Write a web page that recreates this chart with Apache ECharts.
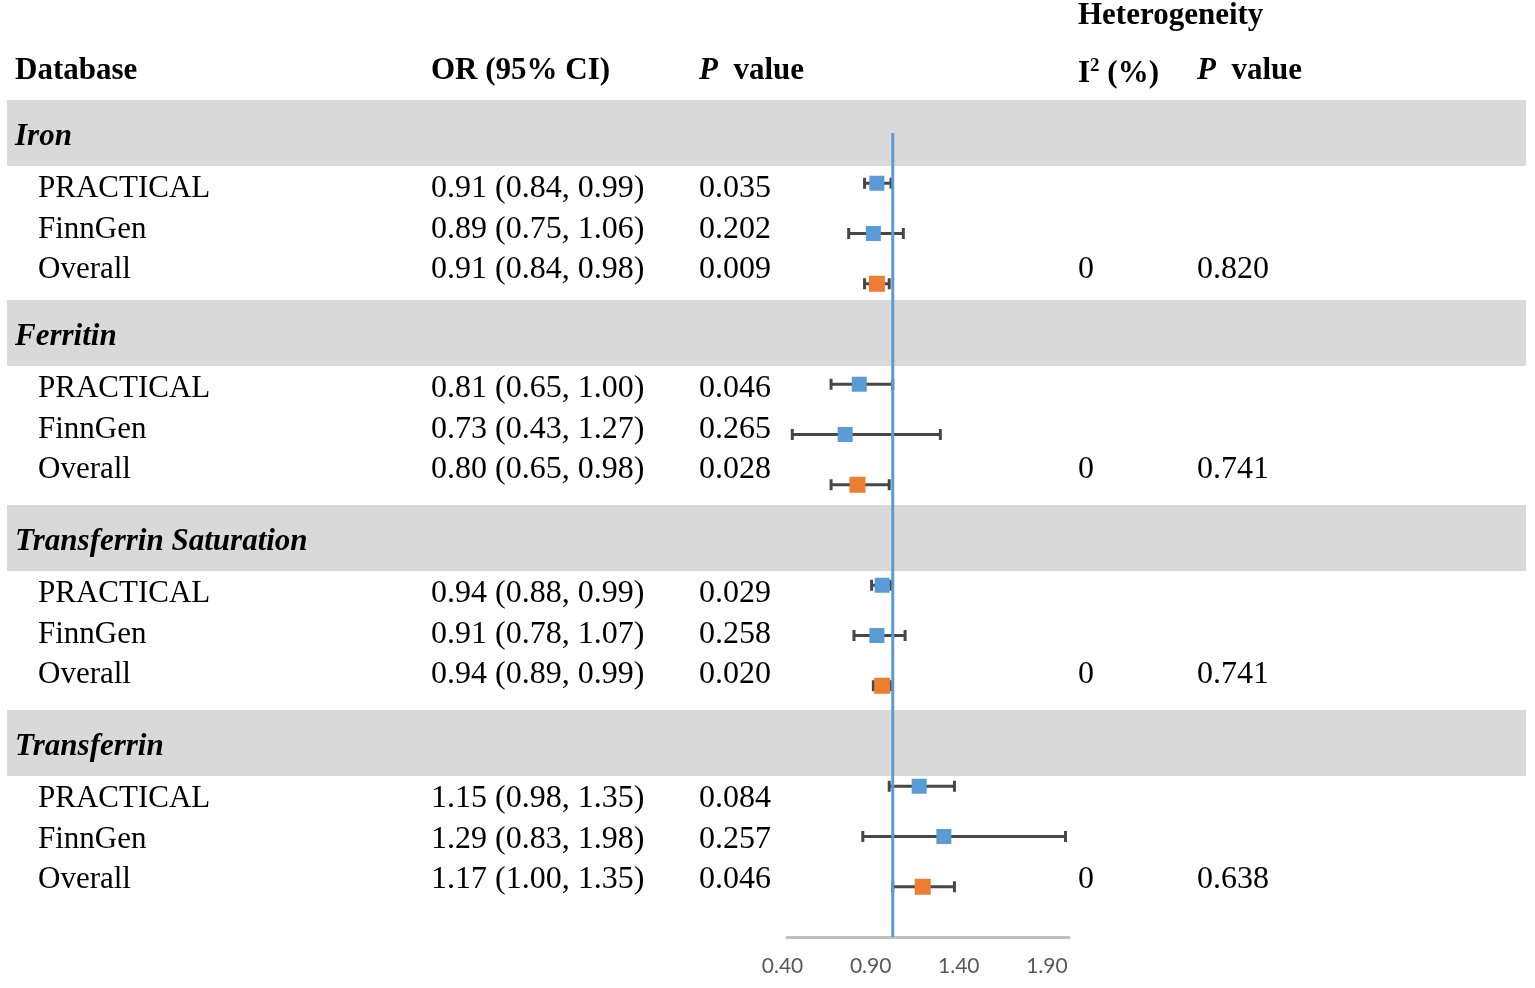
<!DOCTYPE html>
<html><head><meta charset="utf-8">
<script src="https://cdn.jsdelivr.net/npm/echarts@6/dist/echarts.min.js"></script>
<style>html,body{margin:0;padding:0;background:#fff;}#c{width:1535px;height:988px;}</style>
</head><body><div id="c"></div>
<script>
// ---- data ----
const groups = ['Iron', 'Ferritin', 'Transferrin Saturation', 'Transferrin'];
const databases = ['PRACTICAL', 'FinnGen', 'Overall'];
const orValues = [[0.91, 0.89, 0.91], [0.81, 0.73, 0.80], [0.94, 0.91, 0.94], [1.15, 1.29, 1.17]];
const ciLow    = [[0.84, 0.75, 0.84], [0.65, 0.43, 0.65], [0.88, 0.78, 0.89], [0.98, 0.83, 1.00]];
const ciHigh   = [[0.99, 1.06, 0.98], [1.00, 1.27, 0.98], [0.99, 1.07, 0.99], [1.35, 1.98, 1.35]];
const pValues  = [['0.035', '0.202', '0.009'], ['0.046', '0.265', '0.028'], ['0.029', '0.258', '0.020'], ['0.084', '0.257', '0.046']];
const i2Values = ['0', '0', '0', '0'];
const hetPValues = ['0.820', '0.741', '0.741', '0.638'];
const xTickLabels = ['0.40', '0.90', '1.40', '1.90'];
const refValue = 1.0;

// ---- build ----
const fmt = v => v.toFixed(2);
const blue = [], orange = [], bars = [];
groups.forEach((g, gi) => {
  databases.forEach((d, di) => {
    const k = gi * 4 + di;
    bars.push([ciLow[gi][di], ciHigh[gi][di], k]);
    (d === 'Overall' ? orange : blue).push([orValues[gi][di], k]);
  });
});

const serif = '"Liberation Serif", "Times New Roman", serif';
const F = 31;
const bandTops = [100, 300, 505, 710];
const graphics = [];
function txt(x, y, text, font, extra) {
  graphics.push(Object.assign({
    type: 'text', z: 10,
    style: { x: x, y: y, text: text, font: font, fill: '#000', textVerticalAlign: 'middle', textAlign: 'left' }
  }, extra || {}));
}
// header
txt(15, 71, 'Database', 'bold ' + F + 'px ' + serif);
txt(431, 71, 'OR (95% CI)', 'bold ' + F + 'px ' + serif);
const pRich = {
  p: { font: 'italic bold ' + F + 'px ' + serif, fill: '#000' },
  v: { font: 'bold ' + F + 'px ' + serif, fill: '#000' }
};
graphics.push({ type: 'text', z: 10, style: { x: 699, y: 71, text: '{p|P}{v|  value}', rich: pRich, textVerticalAlign: 'middle' } });
txt(1078, 16, 'Heterogeneity', 'bold ' + F + 'px ' + serif);
graphics.push({ type: 'text', z: 10, style: { x: 1078, y: 74, text: '{a|I}{s|2}{a| (%)}', textVerticalAlign: 'middle', rich: {
  a: { font: 'bold ' + F + 'px ' + serif, fill: '#000', lineHeight: 34 },
  s: { font: 'bold 19px ' + serif, fill: '#000', verticalAlign: 'top', lineHeight: 24 }
} } });
graphics.push({ type: 'text', z: 10, style: { x: 1197, y: 71, text: '{p|P}{v|  value}', rich: pRich, textVerticalAlign: 'middle' } });

groups.forEach((g, gi) => {
  const top = bandTops[gi];
  graphics.push({ type: 'rect', z: -10, shape: { x: 7, y: top, width: 1519, height: 66 }, style: { fill: '#d9d9d9' } });
  txt(15, top + 37, g, 'italic bold ' + F + 'px ' + serif);
  databases.forEach((d, di) => {
    const y = top + 89 + 40.5 * di;
    const font = F + 'px ' + serif;
    const numFont = '32px ' + serif;
    txt(38, y, d, font);
    txt(431, y, fmt(orValues[gi][di]) + ' (' + fmt(ciLow[gi][di]) + ', ' + fmt(ciHigh[gi][di]) + ')', numFont);
    txt(699, y, pValues[gi][di], numFont);
    if (d === 'Overall') {
      txt(1078, y, i2Values[gi], numFont);
      txt(1197, y, hetPValues[gi], numFont);
    }
  });
});

const chart = echarts.init(document.getElementById('c'));
chart.setOption({
  animation: false,
  backgroundColor: '#fff',
  graphic: graphics,
  grid: { left: 787, right: 466, top: 133, bottom: 51 },
  xAxis: {
    type: 'value', min: 0.4, max: 2.0, interval: 0.5,
    splitLine: { show: false },
    axisTick: { show: false },
    axisLine: { show: true, onZero: false, lineStyle: { color: '#bfbfbf', width: 3 } },
    axisLabel: {
      showMaxLabel: false, margin: 19, color: '#595959', fontSize: 21,
      fontFamily: 'Lato, "Liberation Sans", sans-serif', padding: [0, 9, 0, 0],
      formatter: v => { const s = v.toFixed(2); return xTickLabels.indexOf(s) >= 0 ? s : ''; }
    }
  },
  yAxis: { type: 'value', min: -1, max: 15, inverse: true, show: false },
  series: [
    {
      type: 'custom', z: 2,
      encode: { x: [0, 1], y: 2 },
      data: bars,
      renderItem: function (params, api) {
        const lo = api.coord([api.value(0), api.value(2)]);
        const hi = api.coord([api.value(1), api.value(2)]);
        const h = 5.5;
        const st = { stroke: '#474747', lineWidth: 3 };
        return { type: 'group', children: [
          { type: 'line', shape: { x1: lo[0], y1: lo[1], x2: hi[0], y2: hi[1] }, style: st },
          { type: 'line', shape: { x1: lo[0], y1: lo[1] - h, x2: lo[0], y2: lo[1] + h }, style: st },
          { type: 'line', shape: { x1: hi[0], y1: hi[1] - h, x2: hi[0], y2: hi[1] + h }, style: st }
        ] };
      }
    },
    {
      type: 'line', z: 3, symbol: 'none', data: [[refValue, -1], [refValue, 15]],
      lineStyle: { color: '#5b9bd5', width: 3 }
    },
    { type: 'scatter', z: 4, symbol: 'rect', symbolSize: 15, data: blue, itemStyle: { color: '#5b9bd5', opacity: 1 } },
    { type: 'scatter', z: 4, symbol: 'rect', symbolSize: 16, data: orange, itemStyle: { color: '#ed7d31', opacity: 1 } }
  ]
});
</script></body></html>
